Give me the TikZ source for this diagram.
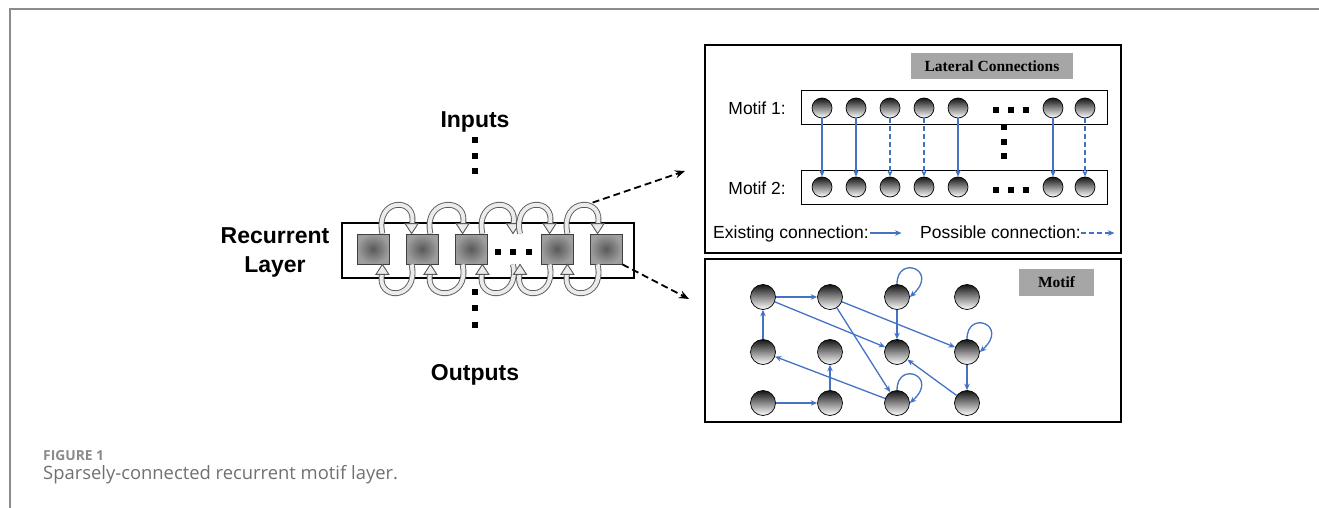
\documentclass[tikz,border=0pt]{standalone}
\usepackage{fontspec}
\setmainfont{Liberation Sans}
\newfontfamily\serifbold{Liberation Serif}
\newfontfamily\capfont{Open Sans}
\usetikzlibrary{arrows.meta,calc}

\definecolor{linkblue}{HTML}{4472C4}
\definecolor{framegray}{HTML}{8C8C8C}
\definecolor{capgray}{HTML}{707070}
\definecolor{capgraylight}{HTML}{8A8A8A}
\definecolor{tagfill}{HTML}{A6A6A6}

% hollow recurrent arrow arching over the row (left to right)
\newcommand{\hoopover}[2]{%
  \draw[hoop] (#1) .. controls ($(#1)+(-8,-37)$) and ($(#2)+(8,-37)$) .. ($(#2)+(0,-8)$);
  \filldraw[hoophead] ($(#2)+(-6.5,-10)$) -- ($(#2)+(6.5,-10)$) -- (#2) -- cycle;}
% hollow recurrent arrow arching under the row (right to left)
\newcommand{\hoopunder}[2]{%
  \draw[hoop] (#1) .. controls ($(#1)+(8,37)$) and ($(#2)+(-8,37)$) .. ($(#2)+(0,8)$);
  \filldraw[hoophead] ($(#2)+(-6.5,10)$) -- ($(#2)+(6.5,10)$) -- (#2) -- cycle;}

\begin{document}
\begin{tikzpicture}[x=1pt,y=-1pt,
  cell/.style={draw=black!75, line width=0.8pt, inner color=black!65, outer color=black!38,
    minimum width=32pt, minimum height=30pt, inner sep=0pt},
  dot/.style={fill=black, minimum size=6pt, inner sep=0pt},
  hoop/.style={draw=black!65, line width=0.9pt, double=black!8, double distance=4pt},
  hoophead/.style={fill=black!8, draw=black!65, line width=0.9pt, line join=miter},
  zoomarrow/.style={line width=1.8pt, dash pattern=on 7pt off 4pt, -{Stealth[length=10pt,width=8pt]}},
  bigtxt/.style={font=\fontsize{23}{28}\selectfont\bfseries, inner sep=0pt},
  midtxt/.style={font=\fontsize{17.5}{21}\selectfont, inner sep=0pt},
  tag/.style={fill=tagfill, inner sep=0pt, font=\serifbold\fontsize{15.5}{18}\selectfont\bfseries},
  neuron/.style={circle, draw=black, line width=0.7pt, top color=black!92, bottom color=white,
    minimum size=20pt, inner sep=0pt},
  bigneuron/.style={neuron, minimum size=25pt},
  link/.style={draw=linkblue, line width=1.3pt, -{Stealth[length=6.5pt,width=5.5pt]}},
  maybelink/.style={link, dash pattern=on 5pt off 3pt},
  panel/.style={draw=black, line width=2.6pt},
  row/.style={draw=black, line width=1pt}
]
\useasboundingbox (0,0) rectangle (1319,508);

% page frame
\draw[framegray, line width=2pt] (9.5,508) -- (9.5,9.5) -- (1319,9.5);

% ---------- recurrent layer ----------
\node[bigtxt] (inputs) at (475,122) {Inputs};
\node[dot] (i1) at (475,140) {};
\node[dot] (i2) at (475,156) {};
\node[dot] (i3) at (475,171) {};

\node[bigtxt, anchor=base] (rec) at (275,243) {Recurrent};
\node[bigtxt, anchor=base] (lay) at (275,272) {Layer};

\draw[line width=1.8pt] (342,223) rectangle (634,278);
\node[cell] (c1) at (373,249) {};
\node[cell] (c2) at (422,249) {};
\node[cell] (c3) at (471,249) {};
\node[cell] (c4) at (557,249) {};
\node[cell] (c5) at (606,249) {};
\node[dot] (g1) at (498,252) {};
\node[dot] (g2) at (513,252) {};
\node[dot] (g3) at (529,252) {};

\coordinate (a1) at ($(c1.north east)+(-7,0)$);
\coordinate (b1) at ($(c2.north west)+(6,0)$);
\coordinate (a2) at ($(c2.north east)+(-8,0)$);
\coordinate (b2) at ($(c3.north west)+(8,0)$);
\coordinate (a3) at ($(c3.north east)+(-5,0)$);
\coordinate (b3) at (g2 |- c3.north);
\coordinate (a4) at ($(b3)+(7,0)$);
\coordinate (b4) at ($(c4.north west)+(9,0)$);
\coordinate (a5) at ($(c4.north east)+(-6,0)$);
\coordinate (b5) at ($(c5.north west)+(8,0)$);
\coordinate (u1) at (a1 |- c1.south);
\coordinate (v1) at (b1 |- c1.south);
\coordinate (u2) at (a2 |- c1.south);
\coordinate (v2) at (b2 |- c1.south);
\coordinate (u3) at (a3 |- c1.south);
\coordinate (v3) at (b3 |- c1.south);
\coordinate (u4) at (a4 |- c1.south);
\coordinate (v4) at (b4 |- c1.south);
\coordinate (u5) at (a5 |- c1.south);
\coordinate (v5) at (b5 |- c1.south);

\hoopover{a1}{b1}
\hoopover{a2}{b2}
\hoopover{a3}{b3}
\hoopover{a4}{b4}
\hoopover{a5}{b5}
\hoopunder{v1}{u1}
\hoopunder{v2}{u2}
\hoopunder{v3}{u3}
\hoopunder{v4}{u4}
\hoopunder{v5}{u5}

\node[dot] (o1) at (475,292) {};
\node[dot] (o2) at (475,308) {};
\node[dot] (o3) at (475,325) {};
\node[bigtxt] (outputs) at (475,375) {Outputs};

% zoom pointers
\coordinate (zt) at ($(c5.north west)+(3,-31)$);
\coordinate (zte) at (685,171);
\coordinate (zbe) at (689,299);
\draw[zoomarrow] (zt) -- (zte);
\draw[zoomarrow] (c5.south east) -- (zbe);

% ---------- lateral connections panel ----------
\draw[panel] (705,45) rectangle (1121,253);
\node[tag, minimum width=162pt, minimum height=26pt] (lattag) at (992,66) {Lateral Connections};
\draw[row] (801,91) rectangle (1107,125);
\draw[row] (801,170) rectangle (1107,204);
\node[midtxt, anchor=base east] (m1lbl) at (786,115) {Motif 1:};
\node[midtxt, anchor=base east] (m2lbl) at (786,194) {Motif 2:};

\foreach \n/\x in {a/822,b/856,c/890,d/924,e/958,f/1053,g/1085}{
  \node[neuron] (p\n) at (\x,108) {};
  \node[neuron] (q\n) at (\x,187) {};
}
\foreach \x in {996,1011,1026}{
  \node[dot] (h1\x) at (\x,110) {};
  \node[dot] (h2\x) at (\x,190) {};
}
\node[dot] (vd1) at (1004,127) {};
\node[dot] (vd2) at (1004,142) {};
\node[dot] (vd3) at (1004,156) {};

\foreach \n in {a,b,e,f}{ \draw[link] (p\n) -- (q\n); }
\foreach \n in {c,d,g}{ \draw[maybelink] (p\n) -- (q\n); }

\node[midtxt, anchor=base west] (exist) at (713,238) {Existing connection:};
\node[midtxt, anchor=base west] (poss) at (920,238) {Possible connection:};
\coordinate (ex0) at ($(exist.base east)+(0.5,-5)$);
\coordinate (ex1) at ($(ex0)+(32,0)$);
\coordinate (po0) at ($(poss.base east)+(0.5,-5)$);
\coordinate (po1) at ($(po0)+(33,0)$);
\draw[link] (ex0) -- (ex1);
\draw[maybelink] (po0) -- (po1);

% ---------- motif panel ----------
\draw[panel] (705,259) rectangle (1121,422);
\node[tag, minimum width=75pt, minimum height=27pt] (motiftag) at (1056.5,282.5) {Motif};

\foreach \c/\x in {1/763,2/830,3/897,4/967}{
  \node[bigneuron] (n1\c) at (\x,297) {};
  \node[bigneuron] (n2\c) at (\x,352) {};
  \node[bigneuron] (n3\c) at (\x,403) {};
}

\draw[link] (n11) -- (n12);
\draw[link] (n21) -- (n11);
\draw[link] (n11) -- (n23);
\draw[link] (n12) -- (n24);
\draw[link] (n12) -- (n33);
\draw[link] (n13) -- (n23);
\draw[link] (n24) -- (n34);
\draw[link] (n34) -- (n23);
\draw[link] (n33) -- (n21);
\draw[link] (n31) -- (n32);
\draw[link] (n32) -- (n22);
\draw[link] (n13.north) .. controls +(0,-30) and +(30,-27) .. (n13.east);
\draw[link] (n24.north) .. controls +(0,-30) and +(30,-27) .. (n24.east);
\draw[link] (n33.north) .. controls +(0,-30) and +(30,-27) .. (n33.east);

% ---------- caption ----------
\node[anchor=base west, inner sep=0pt, text=capgraylight, font=\capfont\fontsize{13.8}{16}\selectfont\bfseries] (fig) at (43,460.5) {FIGURE 1};
\node[anchor=base west, inner sep=0pt, text=capgray, font=\capfont\fontsize{18.4}{22}\selectfont] (cap) at (43,479.5) {Sparsely-connected recurrent motif layer.};
\end{tikzpicture}
\end{document}
